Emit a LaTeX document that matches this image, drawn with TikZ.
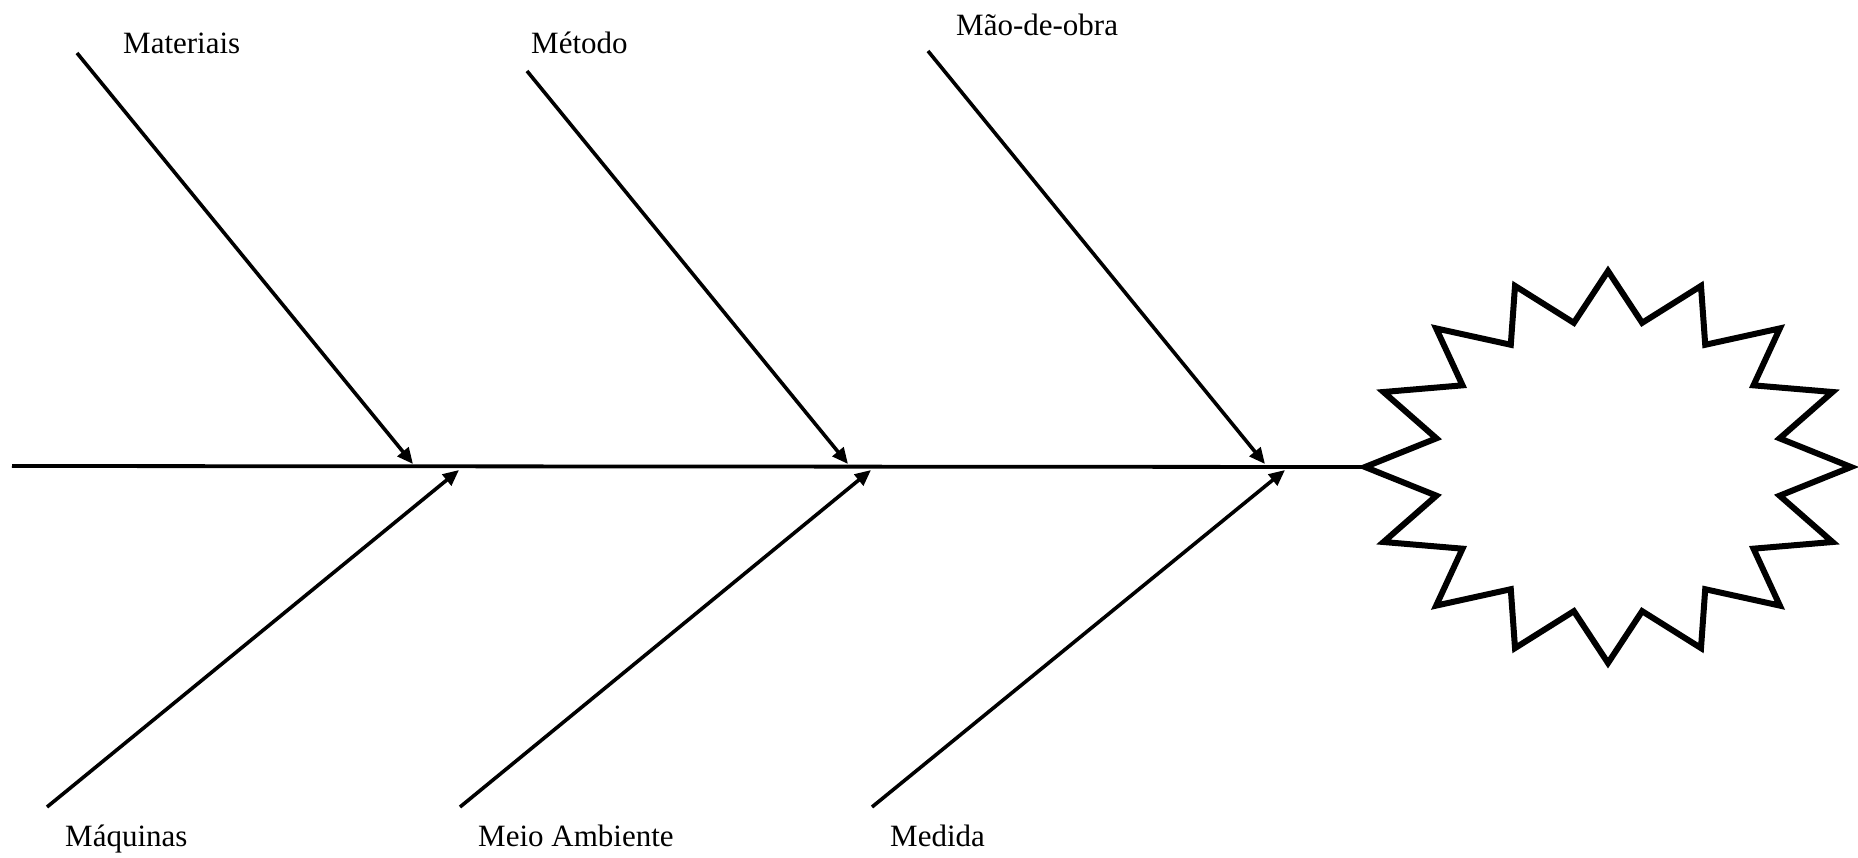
\documentclass[tikz,border=0pt]{standalone}
\usepackage{fontspec}
\setmainfont{Liberation Serif}
\usetikzlibrary{arrows.meta}
\begin{document}
\begin{tikzpicture}[x=1pt,y=-1pt,
  bone/.style={line width=3.6pt,-{Triangle[length=16pt,width=14pt]}},
  spineline/.style={line width=3.8pt},
  starline/.style={line width=6pt,line join=miter},
  lbl/.style={anchor=base west,inner sep=0pt,font=\fontsize{31}{36}\selectfont}]
\useasboundingbox (0,0) rectangle (1858,857);
% labels
\node[lbl] (mat) at (123,53) {Materiais};
\node[lbl] (met) at (531,53) {Método};
\node[lbl] (mao) at (956,35) {Mão-de-obra};
\node[lbl] (maq) at (65,846) {Máquinas};
\node[lbl] (mei) at (478,846) {Meio Ambiente};
\node[lbl] (med) at (890,846) {Medida};
% bone coordinates
\coordinate (s1) at (77,53);   \coordinate (e1) at (413,464);
\coordinate (s2) at (527,71);  \coordinate (e2) at (848,464);
\coordinate (s3) at (928,51);  \coordinate (e3) at (1265,464);
\coordinate (s4) at (47,807);  \coordinate (e4) at (459,470);
\coordinate (s5) at (460,807); \coordinate (e5) at (871,470);
\coordinate (s6) at (872,807); \coordinate (e6) at (1285,470);
\coordinate (sp) at (12,466);
\coordinate (tip) at (1366,467);
% spine
\draw[spineline] (sp) -- (tip);
% bones
\draw[bone] (s1) -- (e1);
\draw[bone] (s2) -- (e2);
\draw[bone] (s3) -- (e3);
\draw[bone] (s4) -- (e4);
\draw[bone] (s5) -- (e5);
\draw[bone] (s6) -- (e6);
% star
\draw[starline] ({1608+243},467)
  \foreach \k in {0,...,15} {
    -- ({1608+175*cos(\k*22.5+11.25)},{467+147*sin(\k*22.5+11.25)})
    -- ({1608+243*cos((\k+1)*22.5)},{467+196*sin((\k+1)*22.5)})
  } -- cycle;
\end{tikzpicture}
\end{document}
